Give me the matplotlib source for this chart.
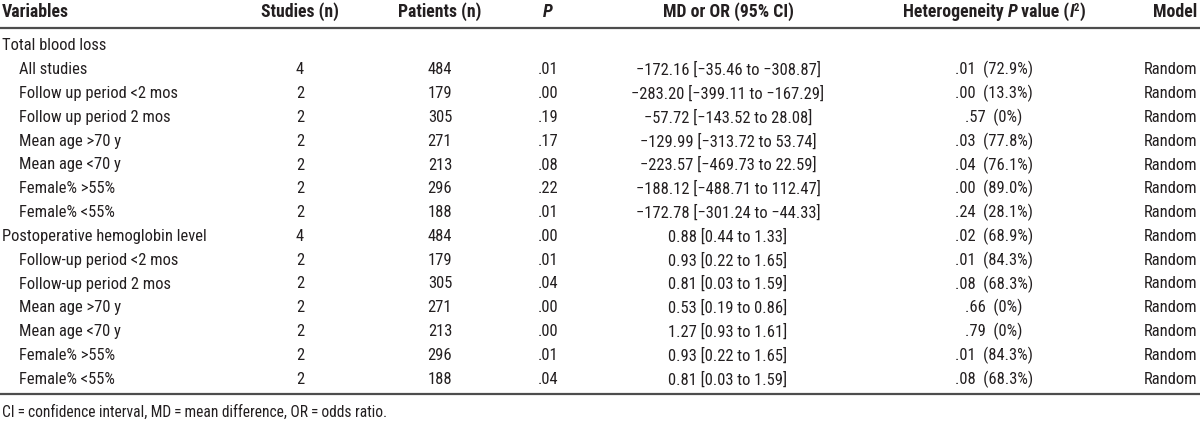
import matplotlib
matplotlib.use("Agg")
import matplotlib.pyplot as plt
from matplotlib import font_manager

# table content
variables = [
    "Total blood loss", "All studies", "Follow up period <2 mos", "Follow up period 2 mos",
    "Mean age >70 y", "Mean age <70 y", "Female% >55%", "Female% <55%",
    "Postoperative hemoglobin level", "Follow-up period <2 mos", "Follow-up period 2 mos",
    "Mean age >70 y", "Mean age <70 y", "Female% >55%", "Female% <55%",
]
indent = [0, 1, 1, 1, 1, 1, 1, 1, 0, 1, 1, 1, 1, 1, 1]
studies = ["", "4", "2", "2", "2", "2", "2", "2", "4", "2", "2", "2", "2", "2", "2"]
patients = ["", "484", "179", "305", "271", "213", "296", "188", "484", "179", "305", "271", "213", "296", "188"]
p_values = ["", ".01", ".00", ".19", ".17", ".08", ".22", ".01", ".00", ".01", ".04", ".00", ".00", ".01", ".04"]
md_or = [
    "", "\u2212172.16 [\u221235.46 to \u2212308.87]", "\u2212283.20 [\u2212399.11 to \u2212167.29]",
    "\u221257.72 [\u2212143.52 to 28.08]", "\u2212129.99 [\u2212313.72 to 53.74]",
    "\u2212223.57 [\u2212469.73 to 22.59]", "\u2212188.12 [\u2212488.71 to 112.47]",
    "\u2212172.78 [\u2212301.24 to \u221244.33]", "0.88 [0.44 to 1.33]", "0.93 [0.22 to 1.65]",
    "0.81 [0.03 to 1.59]", "0.53 [0.19 to 0.86]", "1.27 [0.93 to 1.61]",
    "0.93 [0.22 to 1.65]", "0.81 [0.03 to 1.59]",
]
heterogeneity = ["", ".01  (72.9%)", ".00  (13.3%)", ".57  (0%)", ".03  (77.8%)", ".04  (76.1%)",
                 ".00  (89.0%)", ".24  (28.1%)", ".02  (68.9%)", ".01  (84.3%)", ".08  (68.3%)",
                 ".66  (0%)", ".79  (0%)", ".01  (84.3%)", ".08  (68.3%)"]
model = ["", "Random", "Random", "Random", "Random", "Random", "Random", "Random", "Random",
         "Random", "Random", "Random", "Random", "Random", "Random"]
footnote = "CI\u2009=\u2009confidence interval, MD\u2009=\u2009mean difference, OR\u2009=\u2009odds ratio."

installed = {f.name for f in font_manager.fontManager.ttflist}
family = next((f for f in ["Liberation Sans Narrow", "Roboto Condensed", "DejaVu Sans"] if f in installed),
              "DejaVu Sans")
plt.rcParams["font.family"] = [family, "DejaVu Sans"]

W, H = 1200, 422
fig = plt.figure(figsize=(W / 100, H / 100), dpi=100)
renderer = fig.canvas.get_renderer()
ink = "#231f20"
fs = 11.9
hfs = 12.8


def fy(y):
    return 1 - y / H


def pieces(parts, x, y, align="center"):
    # draw a run of differently styled pieces (text, style, size factor, raise), aligned as one string
    texts = []
    for s, style, k, dy in parts:
        t = fig.text(0, fy(y - dy), s, fontsize=hfs * k, fontweight="bold", fontstyle=style,
                     color=ink, va="center", ha="left")
        texts.append(t)
    widths = [t.get_window_extent(renderer).width for t in texts]
    total = sum(widths)
    start = x - total / 2 if align == "center" else x - total if align == "right" else x
    for t, w in zip(texts, widths):
        t.set_x(start / W)
        start += w


header_y = 12
col_studies, col_patients, col_p, col_md, col_het, col_model = 300, 440, 548, 728, 994, 1197

pieces([("Variables", "normal", 1, 0)], 2, header_y, align="left")
pieces([("Studies (n)", "normal", 1, 0)], col_studies, header_y)
pieces([("Patients (n)", "normal", 1, 0)], col_patients, header_y)
pieces([("P", "italic", 1, 0)], col_p, header_y)
pieces([("MD or OR (95% CI)", "normal", 1, 0)], col_md, header_y)
pieces([("Heterogeneity ", "normal", 1, 0), ("P", "italic", 1, 0), (" value (", "normal", 1, 0),
        ("I", "italic", 1, 0), ("2", "normal", 0.6, 4), (")", "normal", 1, 0)], col_het, header_y)
pieces([("Model", "normal", 1, 0)], col_model, header_y, align="right")

fig.add_artist(plt.Line2D([0, 1], [fy(28), fy(28)], color="#4d4d4d", lw=1.6))

row0, step = 46, 23.8
for i, name in enumerate(variables):
    y = fy(row0 + i * step)
    x = 2 + 17 * indent[i]
    fig.text(x / W, y, name, fontsize=fs, color=ink, va="center", ha="left")
    fig.text(col_studies / W, y, studies[i], fontsize=fs, color=ink, va="center", ha="center")
    fig.text(col_patients / W, y, patients[i], fontsize=fs, color=ink, va="center", ha="center")
    fig.text(col_p / W, y, p_values[i], fontsize=fs, color=ink, va="center", ha="center")
    fig.text(col_md / W, y, md_or[i], fontsize=fs, color=ink, va="center", ha="center")
    fig.text(col_het / W, y, heterogeneity[i], fontsize=fs, color=ink, va="center", ha="center")
    fig.text(col_model / W, y, model[i], fontsize=fs, color=ink, va="center", ha="right")

fig.add_artist(plt.Line2D([0, 1], [fy(394), fy(394)], color="#4d4d4d", lw=1.6))
fig.text(2 / W, fy(412), footnote, fontsize=11.2, color=ink, va="center", ha="left")

fig.savefig("out.png", dpi=100, facecolor="white")
